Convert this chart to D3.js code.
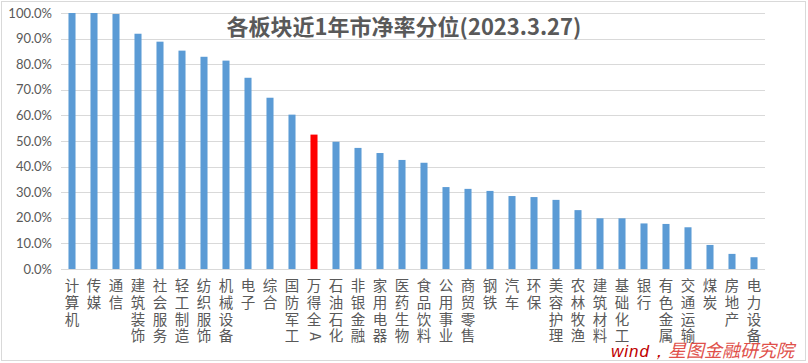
<!DOCTYPE html>
<html>
<head>
<meta charset="utf-8">
<script src="https://cdn.jsdelivr.net/npm/d3@7"></script>
<style>
  body { margin: 0; background: #fff; }
  svg { display: block; }
</style>
</head>
<body>
<svg id="chart" width="808" height="363"></svg>
<script>
// sectors, sorted by percentile
const categories = ["计算机", "传媒", "通信", "建筑装饰", "社会服务", "轻工制造", "纺织服饰", "机械设备",
    "电子", "综合", "国防军工", "万得全A", "石油石化", "非银金融", "家用电器", "医药生物", "食品饮料",
    "公用事业", "商贸零售", "钢铁", "汽车", "环保", "美容护理", "农林牧渔", "建筑材料", "基础化工",
    "银行", "有色金属", "交通运输", "煤炭", "房地产", "电力设备"]
const values = [1.000, 1.000, 0.996, 0.919, 0.888, 0.853, 0.829, 0.814,
    0.747, 0.669, 0.603, 0.525, 0.497, 0.473, 0.453, 0.426, 0.415,
    0.320, 0.313, 0.305, 0.285, 0.281, 0.270, 0.230, 0.198, 0.198,
    0.178, 0.176, 0.163, 0.094, 0.059, 0.046]
const highlight = "万得全A"
const yTicks = [0, 0.1, 0.2, 0.3, 0.4, 0.5, 0.6, 0.7, 0.8, 0.9, 1.0]

const titleText = "各板块近1年市净率分位(2023.3.27)"
const sourceA = "wind，"
const sourceB = "星图金融研究院"

const svg = d3.select("#chart")
const plotLeft = 61, plotRight = 765, plotTop = 13, plotBottom = 269

// outer frame
svg.append("rect")
    .attr("x", 1.5).attr("y", 1.5)
    .attr("width", 804).attr("height", 359)
    .attr("fill", "#fff")
    .attr("stroke", "#d9d9d9")

let x = d3.scaleBand()
    .domain(categories)
    .range([plotLeft, plotRight])
    .paddingInner(0.68)
    .paddingOuter(0.34)

let y = d3.scaleLinear()
    .domain([0, 1])
    .range([plotBottom, plotTop])

// gridlines
svg.append("g")
    .selectAll("line")
    .data(yTicks)
    .join("line")
    .attr("x1", plotLeft).attr("x2", plotRight)
    .attr("y1", d => Math.round(y(d)) + 0.5)
    .attr("y2", d => Math.round(y(d)) + 0.5)
    .attr("stroke", "#d9d9d9")
    .attr("stroke-width", 1)

// y axis labels
let yAxis = svg.append("g")
    .attr("transform", `translate(${plotLeft},0)`)
    .call(d3.axisLeft(y).tickValues(yTicks).tickFormat(d3.format(".1%")).tickSize(0).tickPadding(9))
yAxis.select(".domain").remove()
yAxis.selectAll("text")
    .attr("fill", "#595959")
    .style("font-family", "Lato, 'Liberation Sans', sans-serif")
    .style("font-size", "13px")

// bars
svg.append("g")
    .selectAll("rect")
    .data(categories)
    .join("rect")
    .attr("x", d => x(d))
    .attr("y", (d, i) => y(values[i]))
    .attr("width", x.bandwidth())
    .attr("height", (d, i) => y(0) - y(values[i]))
    .attr("fill", d => d === highlight ? "#ff0000" : "#5b9bd5")

// x labels, stacked vertically one char per line
let labelGroup = svg.append("g")
let labels = labelGroup
    .selectAll("text")
    .data(categories)
    .join("text")
    .attr("fill", "#595959")
    .style("font-family", "'Noto Sans CJK SC', sans-serif")
    .style("font-size", "14.5px")
    .attr("text-anchor", "middle")

labels.each(function (d) {
    let t = d3.select(this)
    let cx = x(d) + x.bandwidth() / 2
    Array.from(d).forEach((ch, k) => {
        let cy = 291 + k * 16.8
        if (/[A-Za-z]/.test(ch)) {
            // latin letter is drawn sideways like the original
            labelGroup.append("text")
                .attr("fill", "#595959")
                .style("font-family", "'Noto Sans CJK SC', sans-serif")
                .style("font-size", "14px")
                .attr("text-anchor", "middle")
                .attr("transform", `translate(${cx - 4},${cy - 5}) rotate(90)`)
                .text(ch)
        } else {
            t.append("tspan").attr("x", cx).attr("y", cy).text(ch)
        }
    })
})

// title
svg.append("text")
    .attr("x", 404)
    .attr("y", 35)
    .attr("text-anchor", "middle")
    .attr("fill", "#595959")
    .style("font-family", "'Noto Sans CJK SC', sans-serif")
    .style("font-weight", "bold")
    .style("font-size", "22px")
    .text(titleText)

// source
let src = svg.append("text")
    .attr("x", 794)
    .attr("y", 357)
    .attr("text-anchor", "end")
    .style("font-style", "italic")
src.append("tspan")
    .attr("fill", "#c00000")
    .style("font-family", "'Liberation Sans', sans-serif")
    .style("font-size", "17px")
    .style("letter-spacing", "1px")
    .text(sourceA)
src.append("tspan")
    .attr("fill", "#e0504a")
    .style("font-family", "'Noto Sans CJK SC', sans-serif")
    .style("font-size", "18px")
    .text(sourceB)
</script>
</body>
</html>
